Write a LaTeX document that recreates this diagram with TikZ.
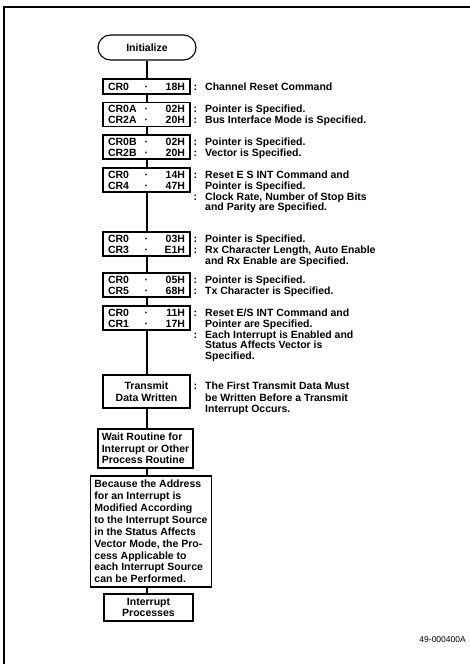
\documentclass[tikz,border=0pt]{standalone}
\usepackage{fontspec}
\setmainfont{Liberation Sans}
\newcommand\fsz{\fontsize{10.5}{10.8}\selectfont\bfseries}
\newcommand\fszl{\fontsize{10.5}{11.5}\selectfont\bfseries}
\newcommand\crl[2]{\makebox[77pt]{\rlap{#1}\hfill·\hfill\llap{#2}}}
\newcommand\cln{\llap{:\hspace{8pt}}}
\newcommand\desclines[4]{\foreach \t [count=\k] in {#4}{\node[dtext] (#1\k) at (205,{#2+(\k-1)*#3}) {\t};}}
\begin{document}
\begin{tikzpicture}[x=1pt,y=-1pt,
  box/.style={draw, line width=1.1pt, inner xsep=4pt, inner ysep=0pt, minimum width=87pt, font=\fsz, align=center},
  dtext/.style={anchor=base west, inner sep=0pt, font=\fsz},
  conn/.style={line width=1.1pt}]
\useasboundingbox (0,0) rectangle (470,664);
\draw[line width=1.8pt] (4,700) -- (4,7) -- (500,7);
\coordinate (spine) at (147,0);

\node[box, rounded corners=12.5pt, minimum width=98pt, minimum height=25pt] (init) at (147,47.5) {Initialize};
\node[box, minimum height=15pt] (b1) at (146.5,86.5) {\crl{CR0}{18H}};
\node[box, minimum height=24pt] (b2) at (146.5,114.5) {\crl{CR0A}{02H}\\\crl{CR2A}{20H}};
\node[box, minimum height=24pt] (b3) at (146.5,147) {\crl{CR0B}{02H}\\\crl{CR2B}{20H}};
\node[box, minimum height=24pt] (b4) at (146.5,180) {\crl{CR0}{14H}\\\crl{CR4}{47H}};
\node[box, minimum height=24pt] (b5) at (146.5,244) {\crl{CR0}{03H}\\\crl{CR3}{E1H}};
\node[box, minimum height=24pt] (b6) at (146.5,285) {\crl{CR0}{05H}\\\crl{CR5}{68H}};
\node[box, minimum height=24pt] (b7) at (146.5,318) {\crl{CR0}{11H}\\\crl{CR1}{17H}};
\node[box, minimum height=33pt, font=\fszl] (b8) at (146.5,391.5) {Transmit\\Data Written};
\node[box, minimum height=39pt, minimum width=95pt, inner xsep=3.5pt, align=left, font=\fszl] (b9) at (145.5,448.5) {Wait Routine for\\Interrupt or Other\\Process Routine};
\node[box, minimum height=111pt, minimum width=121pt, inner xsep=3.5pt, align=left, font=\fontsize{10.5}{11.9}\selectfont\bfseries] (b10) at (151,531.5) {Because the Address\\for an Interrupt is\\Modified According\\to the Interrupt Source\\in the Status Affects\\Vector Mode, the Pro-\\cess Applicable to\\each Interrupt Source\\can be Performed.};
\node[box, minimum height=27pt, minimum width=89pt, font=\fontsize{10.5}{11}\selectfont\bfseries] (b11) at (148.5,607.5) {Interrupt\\Processes};

\foreach \a/\b in {init/b1,b1/b2,b2/b3,b3/b4,b4/b5,b5/b6,b6/b7,b7/b8,b8/b9,b9/b10,b10/b11}
  \draw[conn] (\a.south -| spine) -- (\b.north -| spine);

\desclines{da}{90.3}{10.8}{\cln Channel Reset Command}
\desclines{db}{112.9}{10.8}{\cln Pointer is Specified.,\cln Bus Interface Mode is Specified.}
\desclines{dc}{145.4}{10.8}{\cln Pointer is Specified.,\cln Vector is Specified.}
\desclines{dd}{178.4}{10.8}{\cln Reset E S INT Command and,Pointer is Specified.,{\cln Clock Rate, Number of Stop Bits},and Parity are Specified.}
\desclines{de}{242.4}{10.8}{\cln Pointer is Specified.,{\cln Rx Character Length, Auto Enable},and Rx Enable are Specified.}
\desclines{df}{283.4}{10.8}{\cln Pointer is Specified.,\cln Tx Character is Specified.}
\desclines{dg}{316.4}{10.8}{\cln Reset E/S INT Command and,Pointer are Specified.,\cln Each Interrupt is Enabled and,Status Affects Vector is,Specified.}
\desclines{dh}{389.5}{11.5}{\cln The First Transmit Data Must,be Written Before a Transmit,Interrupt Occurs.}

\node[anchor=base east, inner sep=0pt, font=\fontsize{8.5}{10}\selectfont] (code) at (466,642) {49-000400A};
\end{tikzpicture}
\end{document}
